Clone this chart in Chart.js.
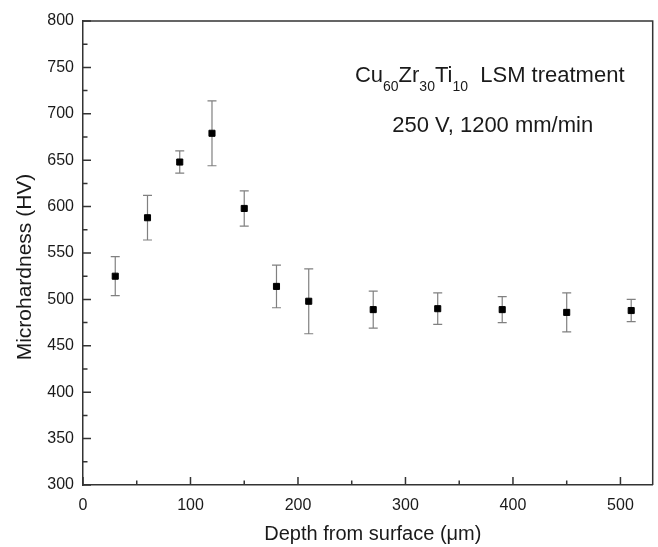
<!DOCTYPE html>
<html>
<head>
<meta charset="utf-8">
<script src="https://cdn.jsdelivr.net/npm/chart.js@4.4.1/dist/chart.umd.min.js"></script>
<style>
    html, body { margin: 0; padding: 0; background: #fff; }
</style>
</head>
<body>
<canvas id="chart" width="658" height="547"></canvas>
<script>

const depth = [30, 60, 90, 120, 150, 180, 210, 270, 330, 390, 450, 510];
const hardness = [525, 588, 648, 679, 598, 514, 498, 489, 490, 489, 486, 488];
const hardnessErr = [21, 24, 12, 35, 19, 23, 35, 20, 17, 14, 21, 12];

const xTickValues = [0, 100, 200, 300, 400, 500];
const xMinorValues = [50, 150, 250, 350, 450];
const yTickValues = [300, 350, 400, 450, 500, 550, 600, 650, 700, 750, 800];
const yMinorValues = [325, 375, 425, 475, 525, 575, 625, 675, 725, 775];

const FONT = '"Liberation Sans", Arial, Helvetica, sans-serif';
const AXIS_COLOR = '#333';
const TEXT_COLOR = '#1a1a1a';


// inward tick marks + top/right frame
const framePlugin = {
    id: 'frame',
    afterDraw(chart) {
        const { ctx, chartArea: a, scales } = chart;
        ctx.save();
        ctx.strokeStyle = AXIS_COLOR;
        ctx.lineWidth = 1.5;

        ctx.beginPath();
        ctx.moveTo(a.left, a.top);
        ctx.lineTo(a.right, a.top);
        ctx.lineTo(a.right, a.bottom);
        ctx.stroke();

        ctx.beginPath();
        xTickValues.forEach(v => {
            const px = scales.x.getPixelForValue(v);
            ctx.moveTo(px, a.bottom);
            ctx.lineTo(px, a.bottom - 8);
        });
        xMinorValues.forEach(v => {
            const px = scales.x.getPixelForValue(v);
            ctx.moveTo(px, a.bottom);
            ctx.lineTo(px, a.bottom - 4.5);
        });
        yTickValues.forEach(v => {
            const py = scales.y.getPixelForValue(v);
            ctx.moveTo(a.left, py);
            ctx.lineTo(a.left + 8, py);
        });
        yMinorValues.forEach(v => {
            const py = scales.y.getPixelForValue(v);
            ctx.moveTo(a.left, py);
            ctx.lineTo(a.left + 4.5, py);
        });
        ctx.stroke();

        // axis titles
        ctx.fillStyle = TEXT_COLOR;
        ctx.font = '20px ' + FONT;
        ctx.textAlign = 'center';
        ctx.textBaseline = 'alphabetic';
        ctx.fillText('Depth from surface (\u03bcm)', (a.left + a.right) / 2 + 5, 540);

        ctx.save();
        ctx.translate(25, (a.top + a.bottom) / 2 + 14);
        ctx.rotate(-Math.PI / 2);
        ctx.font = '21px ' + FONT;
        ctx.textBaseline = 'middle';
        ctx.fillText('Microhardness (HV)', 0, 0);
        ctx.restore();

        // annotation
        drawRich(ctx, [
            ['Cu', 0], ['60', 1], ['Zr', 0], ['30', 1], ['Ti', 0], ['10', 1], ['  LSM treatment', 0]
        ], a.right - 163, a.top + 61);
        drawRich(ctx, [['250 V, 1200 mm/min', 0]], a.right - 160, a.top + 111);

        ctx.restore();
    }
};


function drawRich(ctx, parts, centerX, baseline) {
    const big = '22px ' + FONT;
    const small = '14px ' + FONT;
    let total = 0;
    parts.forEach(([t, sub]) => {
        ctx.font = sub ? small : big;
        total += ctx.measureText(t).width;
    });
    let x = centerX - total / 2;
    ctx.textAlign = 'left';
    ctx.textBaseline = 'alphabetic';
    parts.forEach(([t, sub]) => {
        ctx.font = sub ? small : big;
        ctx.fillText(t, x, sub ? baseline + 9 : baseline);
        x += ctx.measureText(t).width;
    });
}


// vertical error bars, drawn under the squares
const errorBarPlugin = {
    id: 'errorBars',
    beforeDatasetsDraw(chart) {
        const { ctx, scales } = chart;
        ctx.save();
        ctx.strokeStyle = '#808080';
        ctx.lineWidth = 1.2;
        ctx.beginPath();
        depth.forEach((d, i) => {
            const px = scales.x.getPixelForValue(d);
            const top = scales.y.getPixelForValue(hardness[i] + hardnessErr[i]);
            const bot = scales.y.getPixelForValue(hardness[i] - hardnessErr[i]);
            ctx.moveTo(px, top);
            ctx.lineTo(px, bot);
            ctx.moveTo(px - 4.5, top);
            ctx.lineTo(px + 4.5, top);
            ctx.moveTo(px - 4.5, bot);
            ctx.lineTo(px + 4.5, bot);
        });
        ctx.stroke();
        ctx.restore();
    }
};


new Chart(document.getElementById('chart'), {

    type: 'scatter',

    data: {
        datasets: [{
            data: depth.map((d, i) => ({ x: d, y: hardness[i] })),
            pointStyle: 'rect',
            pointRadius: 4.3,
            pointHoverRadius: 4.3,
            backgroundColor: '#000',
            borderColor: '#000',
            borderWidth: 1
        }]
    },

    options: {

        responsive: false,

        animation: false,

        layout: {
            padding: { top: 21, right: 4, left: 0, bottom: 0 }
        },

        plugins: {
            legend: { display: false },
            tooltip: { enabled: false }
        },

        scales: {

            x: {
                type: 'linear',
                min: 0,
                max: 530,
                afterBuildTicks: scale => {
                    scale.ticks = xTickValues.map(v => ({ value: v }));
                },
                afterFit: scale => { scale.height = 62; },
                grid: { display: false, drawTicks: false },
                border: { display: true, color: AXIS_COLOR, width: 1.5 },
                ticks: {
                    padding: 11,
                    color: TEXT_COLOR,
                    font: { family: FONT, size: 16 }
                }
            },

            y: {
                type: 'linear',
                min: 300,
                max: 800,
                afterBuildTicks: scale => {
                    scale.ticks = yTickValues.map(v => ({ value: v }));
                },
                afterFit: scale => { scale.width = 83; },
                grid: { display: false, drawTicks: false },
                border: { display: true, color: AXIS_COLOR, width: 1.5 },
                ticks: {
                    padding: 9,
                    color: TEXT_COLOR,
                    font: { family: FONT, size: 16 }
                }
            }
        }
    },

    plugins: [errorBarPlugin, framePlugin]

});

</script>
</body>
</html>
